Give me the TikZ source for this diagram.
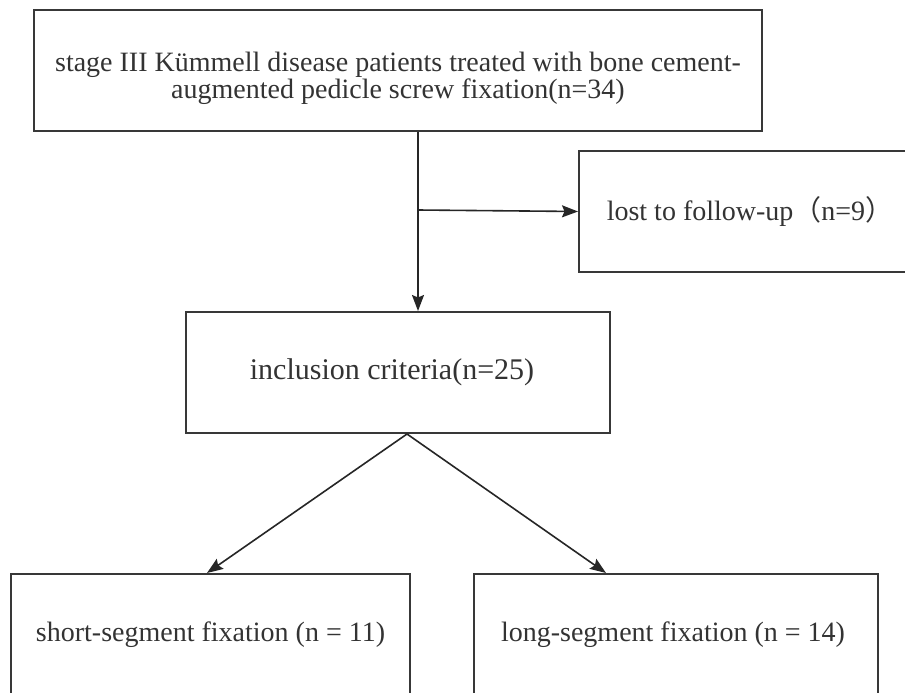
\documentclass[tikz,border=0pt]{standalone}
\usepackage{fontspec}
\setmainfont{Liberation Serif}
\newfontfamily\cjk{Noto Sans CJK SC}
\usetikzlibrary{arrows.meta,calc}
\begin{document}
\begin{tikzpicture}[x=1pt,y=-1pt,
  box/.style={draw=black!78, line width=2pt, rectangle, inner sep=0pt,
    minimum height=121pt, text=black!80, align=center,
    font=\fontsize{28}{27}\selectfont},
  conn/.style={draw=black!85, line width=1.6pt,
    -{Stealth[length=16pt,width=12pt,inset=2.5pt]}}]
\useasboundingbox (0,0) rectangle (905,693);
\clip (0,0) rectangle (905,693);
\fill[white] (0,0) rectangle (905,693);

\node[box, minimum width=728pt] (top) at (398,70.5)
  {\raisebox{-9pt}[\height][\depth]{\begin{tabular}{@{}c@{}}stage III Kümmell disease patients treated with bone cement-\\[-0.5pt]augmented pedicle screw fixation(n=34)\end{tabular}}};
\node[box, minimum width=350pt] (lost) at (754,211.5)
  {lost to follow-up{\cjk （}n=9{\cjk ）}\hspace*{8pt}};
\node[box, minimum width=424pt, font=\fontsize{30}{30}\selectfont] (incl) at (398,372.5)
  {inclusion criteria(n=25)\hspace*{12pt}};
\node[box, minimum width=399pt] (short) at (210.5,634.5)
  {short-segment fixation (n = 11)};
\node[box, minimum width=404pt] (long) at (676,634.5)
  {long-segment fixation (n = 14)\hspace*{6pt}};

\coordinate (split) at (418,210);
\coordinate (fork) at ($(incl.south)+(9,0)$);
\coordinate (shortin) at ($(short.north west)+(197,0)$);
\coordinate (longin) at ($(long.north west)+(133,0)$);

\draw[draw=black!85, line width=1.6pt] (top.south -| split) -- (split);
\draw[conn] (split) -- (incl.north -| split);
\draw[conn] (split) -- (lost.west);
\draw[conn] (fork) -- (shortin);
\draw[conn] (fork) -- (longin);
\end{tikzpicture}
\end{document}
